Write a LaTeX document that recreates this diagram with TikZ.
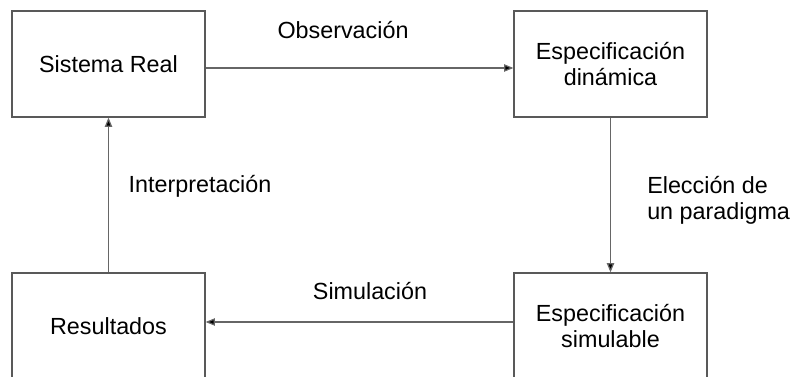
\documentclass[tikz,border=0pt]{standalone}
\usepackage{fontspec}
\setmainfont{Liberation Sans}
\usetikzlibrary{arrows.meta}
\tikzset{
  bloque/.style={draw=black!65, line width=0.9pt, fill=white, minimum width=144.75pt, minimum height=79.5pt, align=center, inner sep=0pt, font=\fontsize{17.5}{19.5}\selectfont},
  flecha/.style={draw=black!60, line width=0.9pt, -{Triangle[length=7pt,width=5.5pt,fill=black]}},
  etiqueta/.style={inner sep=0pt, align=left, font=\fontsize{17.5}{19.5}\selectfont}
}
\begin{document}
\begin{tikzpicture}[x=0.75pt,y=0.75pt,yscale=-1,xscale=1]
\clip (0,0) rectangle (792,377);

% Boxes
\node[bloque] (real) at (108.5,64) {Sistema Real};
\node[bloque] (dinam) at (610.5,64) {Especificación\\dinámica};
\node[bloque] (simul) at (610.5,326) {Especificación\\simulable};
\node[bloque] (res) at (108.5,326) {Resultados};

% Arrows
\draw[flecha] ([yshift=3pt]real.east) -- ([yshift=3pt]dinam.west);
\draw[flecha] (dinam.south) -- (simul.north);
\draw[flecha] ([yshift=-3pt]simul.west) -- ([yshift=-3pt]res.east);
\draw[flecha] (res.north) -- (real.south);

% Labels
\node[etiqueta] (obs) at (343,30) {Observación};
\node[etiqueta, anchor=west] (elec) at (647,200) {Elección de\\un paradigma};
\node[etiqueta] (sim) at (370,291) {Simulación};
\node[etiqueta] (interp) at (200,186) {Interpretación};

\end{tikzpicture}
\end{document}
